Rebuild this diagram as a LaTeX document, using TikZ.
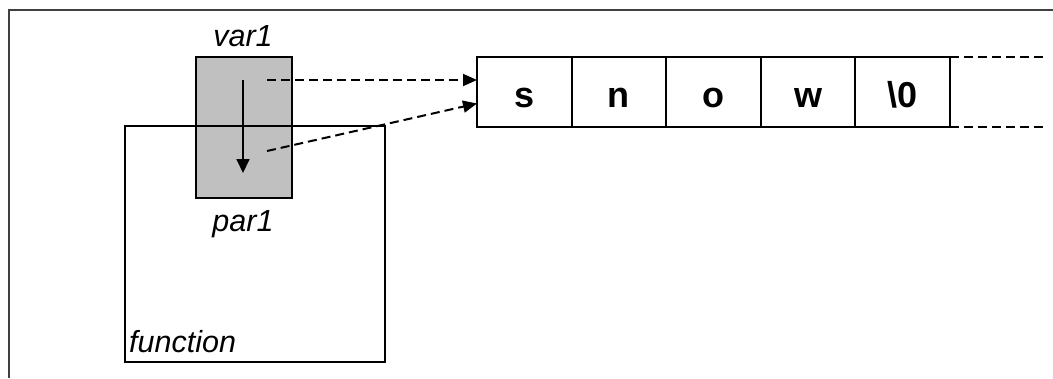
\documentclass[tikz,border=0pt]{standalone}
\usepackage{fontspec}
\setmainfont{Liberation Sans}
\usetikzlibrary{arrows.meta,calc}

\definecolor{boxgray}{HTML}{C0C0C0}
\definecolor{framegray}{HTML}{404040}

\tikzset{
  frameline/.style={draw=framegray, line width=1.5pt},
  boxline/.style={draw=black, line width=2pt, outer sep=0pt},
  varbox/.style={boxline, fill=boxgray, minimum width=96pt, minimum height=141pt, inner sep=0pt},
  cellbox/.style={boxline, minimum width=94.6pt, inner sep=0pt,
    text height=50pt, text depth=20pt, font=\fontsize{36}{36}\selectfont\bfseries},
  lbl/.style={font=\fontsize{30.5}{30.5}\selectfont\itshape, inner sep=0pt},
  ptr/.style={line width=2pt, dash pattern=on 9pt off 5pt,
    -{Triangle[length=14pt,width=12pt]}},
  pass/.style={line width=1.8pt, -{Triangle[length=14pt,width=13pt]}},
  tail/.style={line width=2pt, dash pattern=on 9pt off 5pt}
}

\begin{document}
\begin{tikzpicture}[x=1pt, y=-1pt]
  \useasboundingbox (0,0) rectangle (1053,378);

  % page frame, open on the right and at the bottom
  \coordinate (fbl) at (9,378);
  \coordinate (ftl) at (9,10);
  \coordinate (ftr) at (1053,10);
  \draw[frameline] (fbl) -- (ftl) -- (ftr);

  % shared variable / parameter cell
  \node[varbox] (var) at (244,127.5) {};
  \node[lbl, anchor=base] (varname) at (243,46) {var1};
  \node[lbl, anchor=base] (parname) at (243,231) {par1};

  % function scope
  \node[boxline, minimum width=260pt, minimum height=236pt, inner sep=0pt] (func) at (255,244) {};
  \node[lbl, anchor=base west] (funcname) at (129,352) {function};

  % character array
  \node[cellbox] (c1) at (524.3,92) {s};
  \node[cellbox, anchor=west] (c2) at (c1.east) {n};
  \node[cellbox, anchor=west] (c3) at (c2.east) {o};
  \node[cellbox, anchor=west] (c4) at (c3.east) {w};
  \node[cellbox, anchor=west] (c5) at (c4.east) {\textbackslash 0};

  % the array continues beyond the terminator
  \coordinate (tne) at (1046,57);
  \coordinate (tse) at (1046,127);
  \draw[tail] (c5.north east) -- (tne);
  \draw[tail] (c5.south east) -- (tse);

  % copying the pointer into the parameter
  \coordinate (ptop) at (243,80);
  \coordinate (pbot) at (243,173);
  \draw[pass] (ptop) -- (pbot);

  % both pointers refer to the first character
  \coordinate (s1) at (267,80);
  \coordinate (s2) at (267,151);
  \draw[ptr] (s1) -- (s1 -| c1.west);
  \draw[ptr] (s2) -- ($(c1.west)+(0,11.5)$);
\end{tikzpicture}
\end{document}
